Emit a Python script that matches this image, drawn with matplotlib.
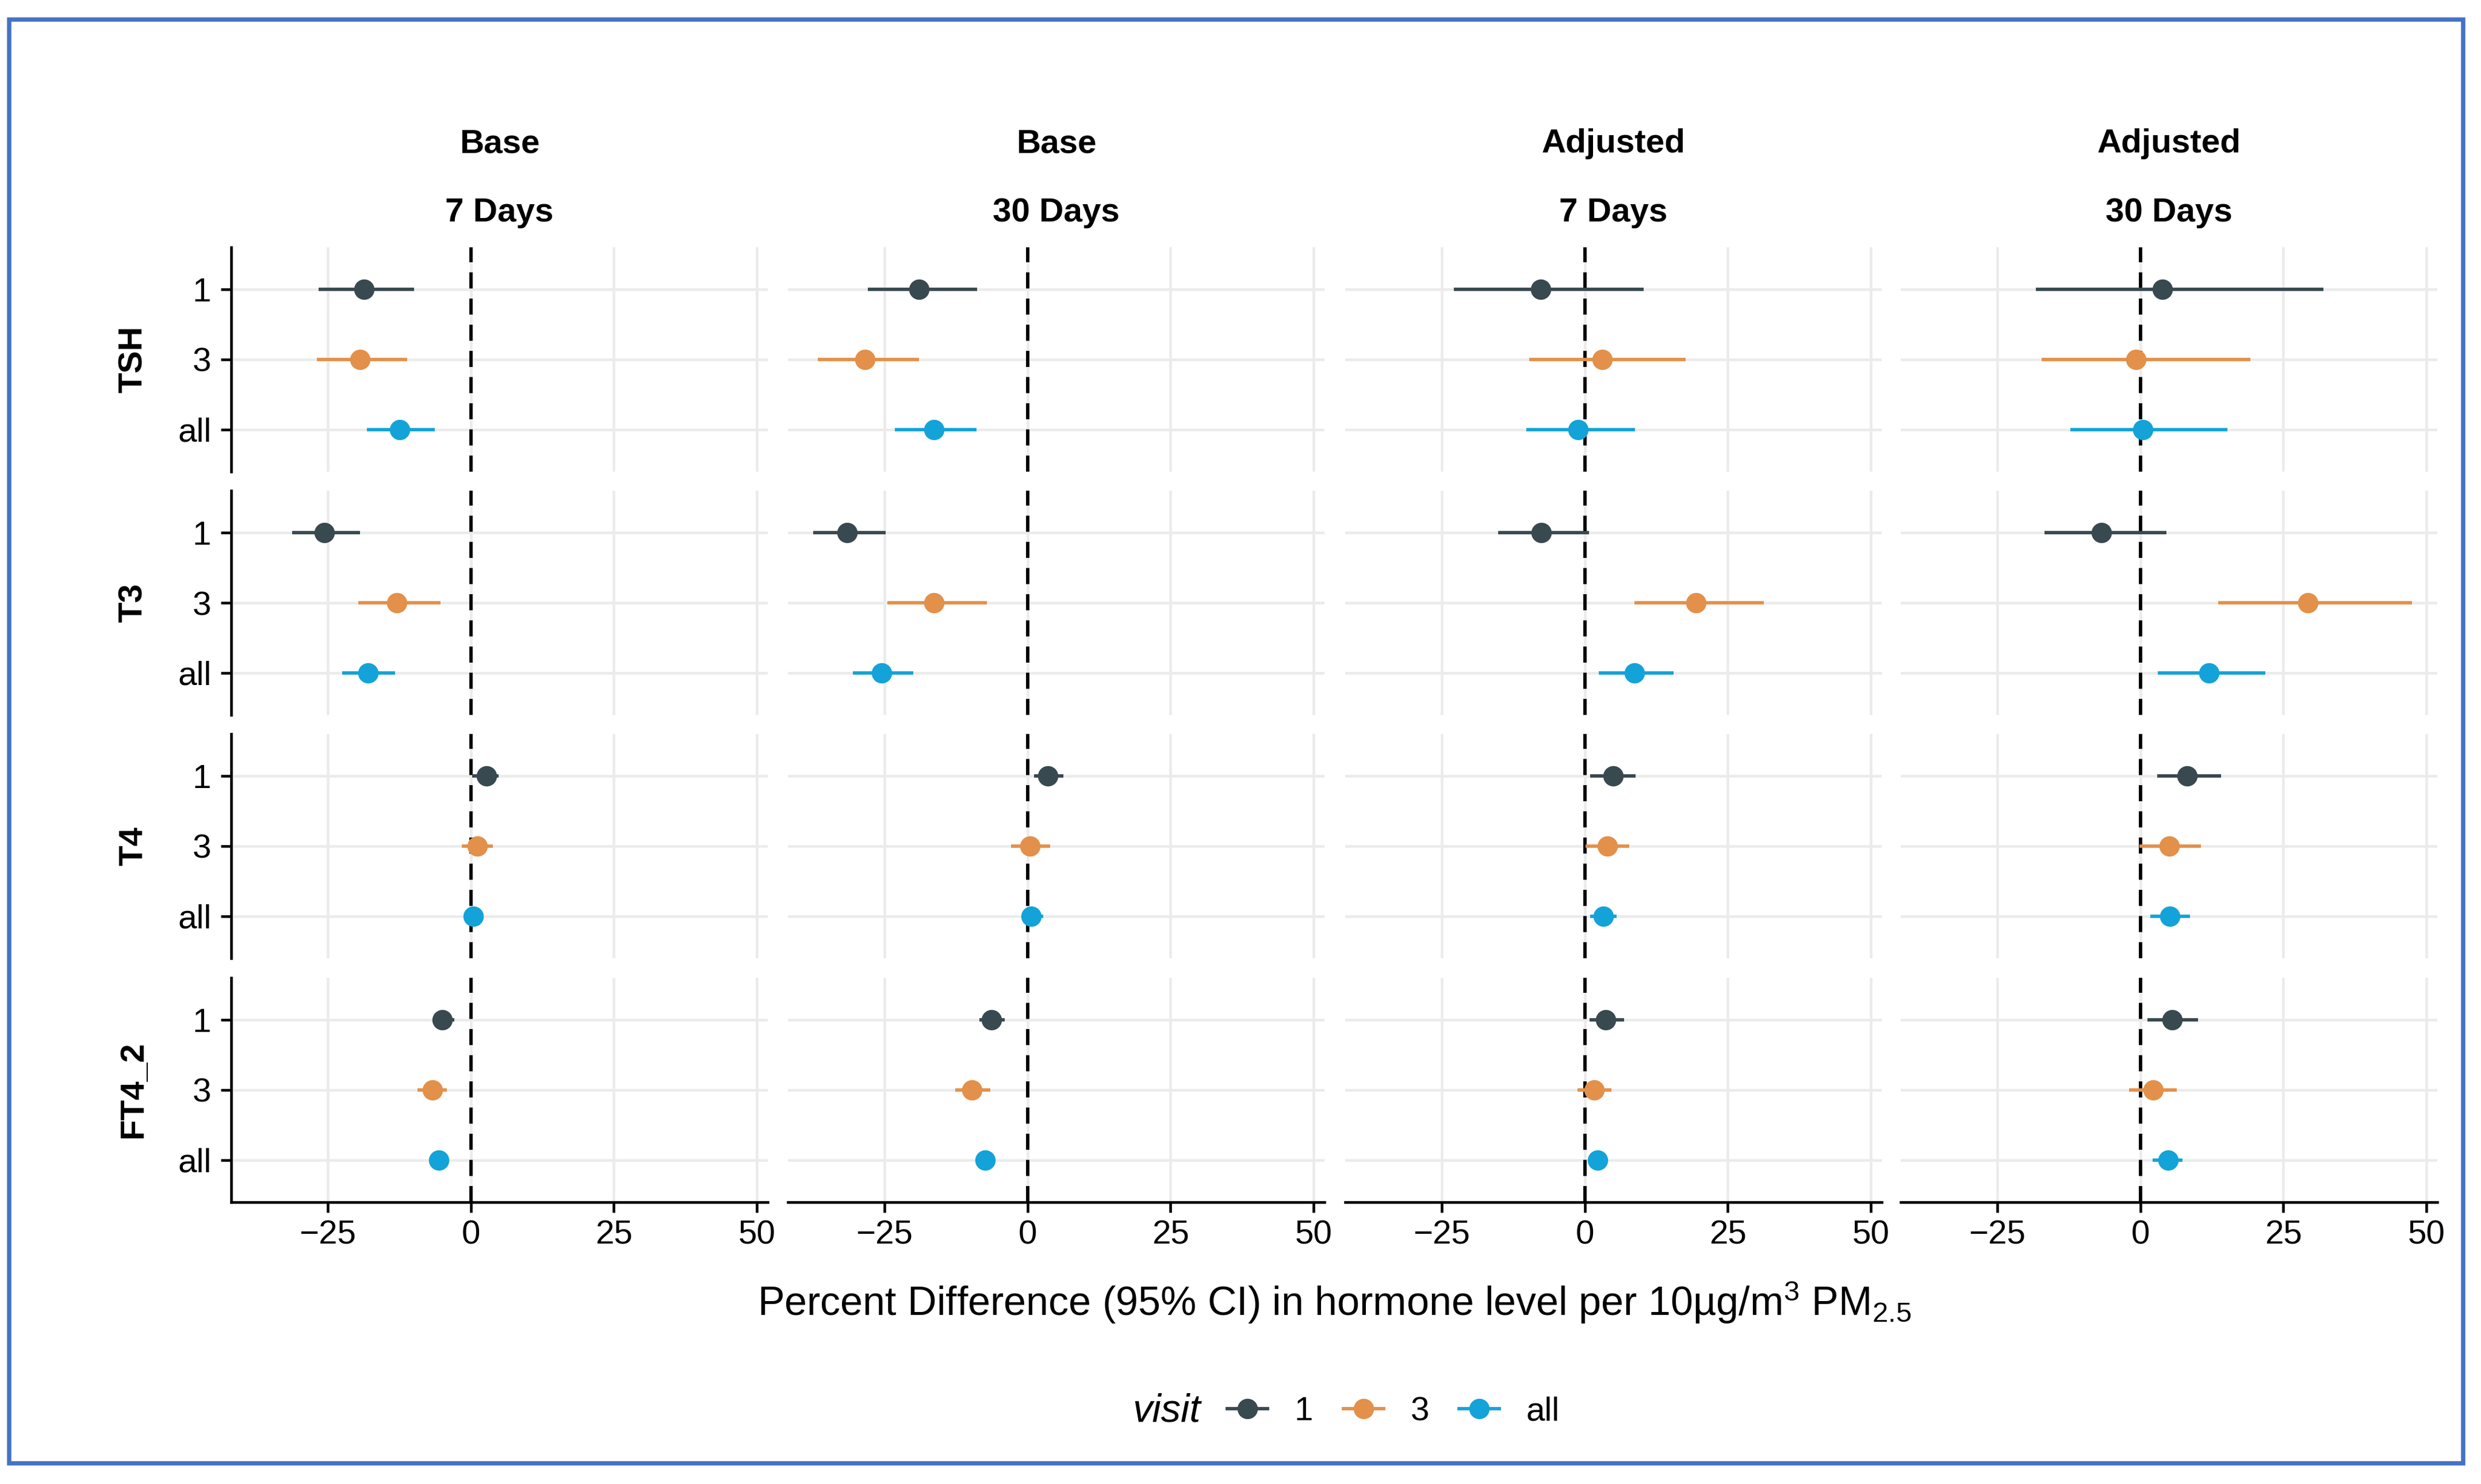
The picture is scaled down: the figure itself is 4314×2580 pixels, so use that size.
import matplotlib
matplotlib.use('Agg')
import matplotlib.pyplot as plt
from matplotlib.lines import Line2D
from matplotlib.patches import Rectangle

plt.rcParams['font.family'] = ['Liberation Sans', 'DejaVu Sans']
plt.rcParams['mathtext.fontset'] = 'custom'
plt.rcParams['mathtext.rm'] = 'Liberation Sans'
plt.rcParams['mathtext.it'] = 'Liberation Sans:italic'

hormones = ['TSH', 'T3', 'T4', 'FT4_2']
visits = ['1', '3', 'all']
models = ['Base', 'Base', 'Adjusted', 'Adjusted']
windows = ['7 Days', '30 Days', '7 Days', '30 Days']
colors = ['#38494F', '#E3904A', '#13A3D8']

# estimate / lower / upper, rows = hormone, cols = visit (1, 3, all)
est_base7 = [[-18.7, -19.4, -12.4], [-25.6, -12.9, -18.0], [2.7, 1.1, 0.4], [-5.0, -6.7, -5.6]]
lo_base7 = [[-26.6, -26.9, -18.2], [-31.2, -19.7, -22.5], [0.2, -1.6, -1.0], [-6.6, -9.3, -7.0]]
hi_base7 = [[-9.9, -11.1, -6.3], [-19.4, -5.3, -13.2], [4.8, 3.8, 1.9], [-2.9, -4.2, -4.2]]

est_base30 = [[-19.0, -28.4, -16.4], [-31.5, -16.4, -25.5], [3.5, 0.4, 0.6], [-6.3, -9.7, -7.4]]
lo_base30 = [[-27.9, -36.7, -23.2], [-37.5, -24.5, -30.5], [1.1, -2.9, -1.1], [-8.4, -12.6, -9.0]]
hi_base30 = [[-8.8, -19.0, -8.9], [-24.8, -7.1, -20.0], [6.3, 3.9, 2.7], [-4.0, -6.5, -5.6]]

est_adj7 = [[-7.7, 3.0, -1.2], [-7.6, 19.4, 8.7], [4.9, 3.9, 3.2], [3.6, 1.6, 2.2]]
lo_adj7 = [[-22.9, -9.7, -10.2], [-15.2, 8.7, 2.4], [0.9, 0.1, 0.9], [0.8, -1.3, 0.7]]
hi_adj7 = [[10.3, 17.6, 8.8], [0.7, 31.3, 15.5], [8.9, 7.8, 5.6], [6.9, 4.6, 3.9]]

est_adj30 = [[3.8, -0.8, 0.4], [-6.8, 29.3, 12.0], [8.2, 5.1, 5.2], [5.6, 2.2, 4.8]]
lo_adj30 = [[-18.3, -17.3, -12.2], [-16.8, 13.6, 3.0], [2.9, -0.2, 1.7], [1.2, -2.0, 2.1]]
hi_adj30 = [[32.0, 19.2, 15.2], [4.5, 47.5, 21.8], [14.1, 10.6, 8.7], [10.1, 6.4, 7.4]]

panels = [
    (est_base7, lo_base7, hi_base7),
    (est_base30, lo_base30, hi_base30),
    (est_adj7, lo_adj7, hi_adj7),
    (est_adj30, lo_adj30, hi_adj30),
]

W, H = 4314, 2580
fig = plt.figure(figsize=(W / 300, H / 300), dpi=300)

col_left = [402, 1370, 2339, 3305]
col_w = 933
row_top = [430, 853, 1276, 1700]
row_h = 390
ypos = [1, 2, 3]

for j, (est, lo, hi) in enumerate(panels):
    for i, hormone in enumerate(hormones):
        ax = fig.add_axes([col_left[j] / W, 1 - (row_top[i] + row_h) / H, col_w / W, row_h / H])
        ax.set_xlim(-41.9, 51.9)
        ax.set_ylim(3.6, 0.4)
        ax.set_xticks([-25, 0, 25, 50])
        ax.set_yticks(ypos)
        ax.set_yticklabels(visits)
        ax.grid(True, color='#EBEBEB', lw=1.1)
        ax.set_axisbelow(True)
        for s in ax.spines.values():
            s.set_visible(False)
        ax.axvline(0, color='black', lw=1.4, ls=(0, (4.8, 3.0)), zorder=1)
        for k in range(3):
            ax.hlines(ypos[k], lo[i][k], hi[i][k], color=colors[k], lw=1.4, zorder=3)
            ax.plot(est[i][k], ypos[k], 'o', ms=7.5, color=colors[k], zorder=4)
        ax.tick_params(labelsize=14, length=4.3, width=1.1, colors='black', pad=4)
        if j == 0:
            ax.spines['left'].set_visible(True)
            ax.spines['left'].set_linewidth(1.1)
        else:
            ax.tick_params(left=False, labelleft=False)
        if i == len(hormones) - 1:
            ax.spines['bottom'].set_visible(True)
            ax.spines['bottom'].set_linewidth(1.1)
            ax.tick_params(axis='x', pad=3)
        else:
            ax.tick_params(bottom=False, labelbottom=False)

# facet strips
for j in range(4):
    cx = (col_left[j] + col_w / 2) / W
    fig.text(cx, 1 - 250 / H, models[j], ha='center', va='center', fontsize=14, fontweight='bold')
    fig.text(cx, 1 - 370 / H, windows[j], ha='center', va='center', fontsize=14, fontweight='bold')
for i, hormone in enumerate(hormones):
    cy = 1 - (row_top[i] + row_h / 2) / H
    fig.text(232 / W, cy, hormone, ha='center', va='center', rotation=90, fontsize=14, fontweight='bold')

fig.text(2320 / W, 1 - 2264 / H,
         'Percent Difference (95% CI) in hormone level per 10\u00b5g/m$^3$ PM$_{2.5}$',
         ha='center', va='center', fontsize=16.8)

# legend
fig.text(2088 / W, 1 - 2454 / H, 'visit', ha='right', va='center', fontsize=16.5, style='italic')
handles = [Line2D([0], [0], color=c, lw=1.4, marker='o', ms=7.5) for c in colors]
fig.legend(handles, visits, loc='center left', bbox_to_anchor=(2134 / W, 1 - 2454 / H),
           ncol=3, frameon=False, fontsize=14, handlelength=1.2, handletextpad=0.8,
           columnspacing=0.9, borderpad=0, borderaxespad=0)

fig.add_artist(Rectangle((16 / W, 1 - 2544 / H), (4283 - 16) / W, (2544 - 34) / H,
                         transform=fig.transFigure, fill=False, ec='#4472C4', lw=1.8))

fig.savefig('out.png', dpi=300)
